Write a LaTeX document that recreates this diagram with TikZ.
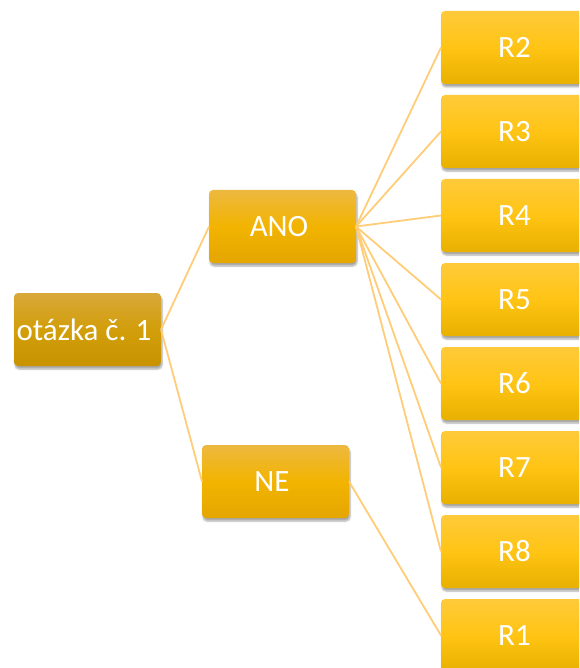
\documentclass[tikz,border=0pt]{standalone}
\usepackage{fontspec}
\setsansfont{Carlito}
\usetikzlibrary{
  positioning,
  shadows.blur}
\definecolor{roottop}{RGB}{216,168,58}
\definecolor{rootmid}{RGB}{210,158,10}
\definecolor{rootbottom}{RGB}{200,146,0}
\definecolor{answertop}{RGB}{237,184,64}
\definecolor{answermid}{RGB}{242,180,0}
\definecolor{answerbottom}{RGB}{228,166,0}
\definecolor{resulttop}{RGB}{255,202,58}
\definecolor{resultmid}{RGB}{255,196,20}
\definecolor{resultbottom}{RGB}{232,176,0}
\definecolor{linkcolor}{RGB}{255,204,120}
\tikzset{
  %% box : common look of all boxes
  box/.style={
    rectangle,
    rounded corners=4pt,
    minimum width=147pt,
    minimum height=73pt,
    inner sep=2pt,
    outer sep=0pt,
    text=white,
    font=\sffamily\fontsize{31}{35}\selectfont,
    blur shadow={shadow xshift=1pt, shadow yshift=-3pt,
      shadow opacity=35, shadow blur steps=6},
    align=center
  },
  %% question : the question at the root
  question/.style={
    box,
    top color=roottop,
    bottom color=rootbottom,
    middle color=rootmid
  },
  %% answer : the answers ANO / NE
  answer/.style={
    box,
    top color=answertop,
    bottom color=answerbottom,
    middle color=answermid
  },
  %% result : the results R1 ... R8
  result/.style={
    box,
    top color=resulttop,
    bottom color=resultbottom,
    middle color=resultmid
  },
  %% link : connection between boxes
  link/.style={linkcolor, line width=1.8pt}
}
\begin{document}
\begin{tikzpicture}
  [x=1pt,
  y=-1pt,
  node distance=11pt]

  \useasboundingbox (0, 0) rectangle (579, 668);
  \clip (0, 0) rectangle (579, 668);

  %% Question and answers
  \node (question) [question] at (87.5, 329.5) {%
    otázka č. 1
  };

  \node (ano) [answer] at (282.5, 226.5) {%
    ANO
  };

  \node (ne) [answer] at (275.5, 481.5) {%
    NE
  };

  %% Results
  \node (r2) [result] at (514.5, 47.5) {R2};
  \node (r3) [below=of r2, result] {R3};
  \node (r4) [below=of r3, result] {R4};
  \node (r5) [below=of r4, result] {R5};
  \node (r6) [below=of r5, result] {R6};
  \node (r7) [below=of r6, result] {R7};
  \node (r8) [below=of r7, result] {R8};
  \node (r1) [below=of r8, result] {R1};

  %% Connections
  \draw [link] (question.east) -- (ano.west);
  \draw [link] (question.east) -- (ne.west);

  \draw [link] (ano.east) -- (r2.west);
  \draw [link] (ano.east) -- (r3.west);
  \draw [link] (ano.east) -- (r4.west);
  \draw [link] (ano.east) -- (r5.west);
  \draw [link] (ano.east) -- (r6.west);
  \draw [link] (ano.east) -- (r7.west);
  \draw [link] (ano.east) -- (r8.west);

  \draw [link] (ne.east) -- (r1.west);

\end{tikzpicture}
\end{document}
